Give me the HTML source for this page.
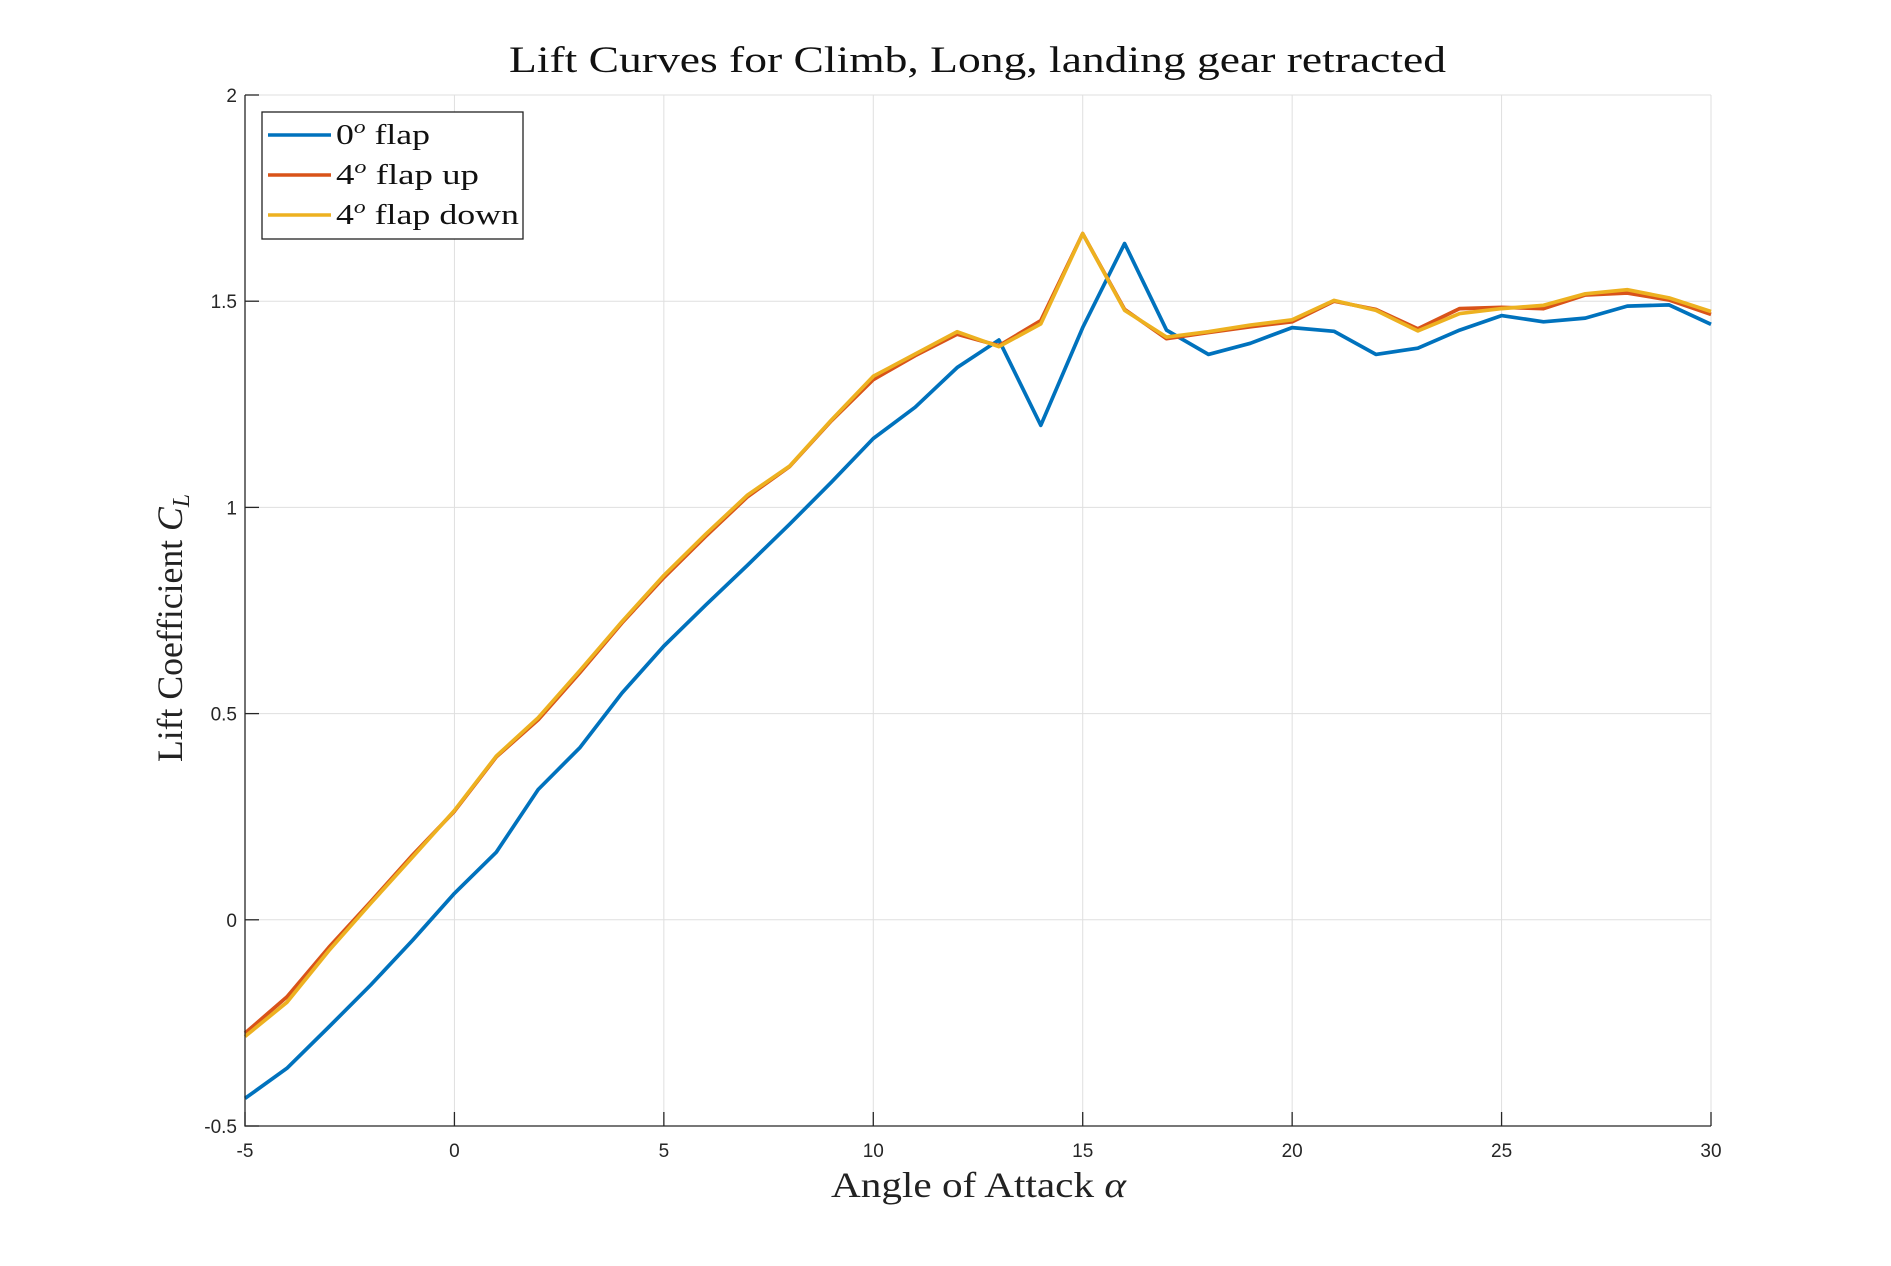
<!DOCTYPE html>
<html><head><meta charset="utf-8"><style>
body{margin:0;background:#fff;}
svg{display:block;}
text{font-family:"Liberation Sans",sans-serif;}
.serif{font-family:"Liberation Serif",serif;}
</style></head><body>
<svg id="chart" width="1891" height="1266" viewBox="0 0 1891 1266" xmlns="http://www.w3.org/2000/svg">
<rect width="1891" height="1266" fill="#fff"/>
<g id="grid"></g>
<g id="series"></g>
<g id="axes"></g>
<text class="serif" x="509" y="72" font-size="37" textLength="937" lengthAdjust="spacingAndGlyphs" fill="#111">Lift Curves for Climb, Long, landing gear retracted</text>
<text class="serif" x="831" y="1197" font-size="36" textLength="295" lengthAdjust="spacingAndGlyphs" fill="#222">Angle of Attack <tspan font-style="italic">α</tspan></text>
<text class="serif" transform="translate(182,762) rotate(-90)" font-size="36" textLength="268" lengthAdjust="spacingAndGlyphs" fill="#222">Lift Coefficient <tspan font-style="italic">C</tspan><tspan font-style="italic" font-size="24" dy="7">L</tspan></text>
<g>
<rect x="262" y="112" width="261" height="127" fill="#fff" stroke="#222" stroke-width="1.3"/>
<line x1="268" y1="135" x2="331" y2="135" stroke="#0072BD" stroke-width="3.5"/>
<text class="serif" x="336" y="144" font-size="29" textLength="94" lengthAdjust="spacingAndGlyphs" fill="#111">0<tspan font-style="italic" font-size="19" dy="-11">o</tspan><tspan dy="11"> flap</tspan></text>
<line x1="268" y1="175" x2="331" y2="175" stroke="#D95319" stroke-width="3.5"/>
<text class="serif" x="336" y="184" font-size="29" textLength="143" lengthAdjust="spacingAndGlyphs" fill="#111">4<tspan font-style="italic" font-size="19" dy="-11">o</tspan><tspan dy="11"> flap up</tspan></text>
<line x1="268" y1="215" x2="331" y2="215" stroke="#EDB120" stroke-width="3.5"/>
<text class="serif" x="336" y="224" font-size="29" textLength="183" lengthAdjust="spacingAndGlyphs" fill="#111">4<tspan font-style="italic" font-size="19" dy="-11">o</tspan><tspan dy="11"> flap down</tspan></text>
</g>
</svg>
<script>
const alpha = [-5,-4,-3,-2,-1,0,1,2,3,4,5,6,7,8,9,10,11,12,13,14,15,16,17,18,19,20,21,22,23,24,25,26,27,28,29,30];
const cl0 = [-0.433,-0.36,-0.26,-0.158,-0.05,0.064,0.164,0.316,0.418,0.55,0.664,0.763,0.86,0.959,1.061,1.167,1.243,1.339,1.406,1.199,1.436,1.64,1.43,1.371,1.398,1.436,1.427,1.371,1.386,1.43,1.465,1.45,1.459,1.488,1.491,1.444];
const cl4up = [-0.275,-0.187,-0.067,0.044,0.157,0.263,0.395,0.485,0.6,0.72,0.83,0.93,1.026,1.099,1.21,1.31,1.368,1.42,1.392,1.453,1.664,1.48,1.409,1.424,1.438,1.45,1.5,1.48,1.433,1.482,1.485,1.482,1.515,1.52,1.503,1.468];
const cl4down = [-0.283,-0.2,-0.075,0.04,0.152,0.265,0.397,0.49,0.605,0.723,0.835,0.935,1.03,1.1,1.212,1.318,1.372,1.426,1.39,1.445,1.664,1.478,1.413,1.426,1.442,1.455,1.502,1.478,1.428,1.47,1.482,1.49,1.518,1.528,1.508,1.475];
const xTicks = [-5,0,5,10,15,20,25,30];
const yTicks = [-0.5,0,0.5,1,1.5,2];
const yTickLabels = ["-0.5","0","0.5","1","1.5","2"];

const L=245,R=1711,T=95,B=1126;
const xs = v => L + (v - (-5)) / 35 * (R - L);
const ys = v => B - (v - (-0.5)) / 2.5 * (B - T);
const NS="http://www.w3.org/2000/svg";
function mk(tag, parent, attrs){const e=document.createElementNS(NS,tag);for(const k in attrs)e.setAttribute(k,attrs[k]);parent.appendChild(e);return e;}
const grid=document.getElementById('grid'), axes=document.getElementById('axes'), series=document.getElementById('series');
xTicks.forEach(t=>{
  const g=mk('line',grid,{x1:xs(t),x2:xs(t),y1:T,y2:B,stroke:'#dfdfdf','stroke-width':1});
  
  
  const tk=mk('line',axes,{x1:xs(t),x2:xs(t),y1:B,y2:B-14,stroke:'#262626','stroke-width':1.3});
  
  
  const lb=mk('text',axes,{x:xs(t),y:B+31,'font-size':19,'text-anchor':'middle',fill:'#262626'});
  lb.textContent=String(t);
  
  
});
yTicks.forEach((t,i)=>{
  const g=mk('line',grid,{x1:L,x2:R,y1:ys(t),y2:ys(t),stroke:'#dfdfdf','stroke-width':1});
  
  
  const tk=mk('line',axes,{x1:L,x2:L+14,y1:ys(t),y2:ys(t),stroke:'#262626','stroke-width':1.3});
  
  
  const lb=mk('text',axes,{x:L-8,y:ys(t)+7,'font-size':19,'text-anchor':'end',fill:'#262626'});
  lb.textContent=yTickLabels[i];
  
  
});
const ax=mk('path',axes,{d:`M${L},${T}V${B}H${R}`,fill:'none',stroke:'#262626','stroke-width':1.3});


function line(vals,color,name){
  const d=vals.map((v,i)=>(i?'L':'M')+xs(alpha[i]).toFixed(1)+','+ys(v).toFixed(1)).join('');
  const p=mk('path',series,{d:d,fill:'none',stroke:color,'stroke-width':3.7,'stroke-linejoin':'round'});
  
  
}
line(cl0,'#0072BD','series-0-flap');
line(cl4up,'#D95319','series-4-flap-up');
line(cl4down,'#EDB120','series-4-flap-down');
</script>
</body></html>
